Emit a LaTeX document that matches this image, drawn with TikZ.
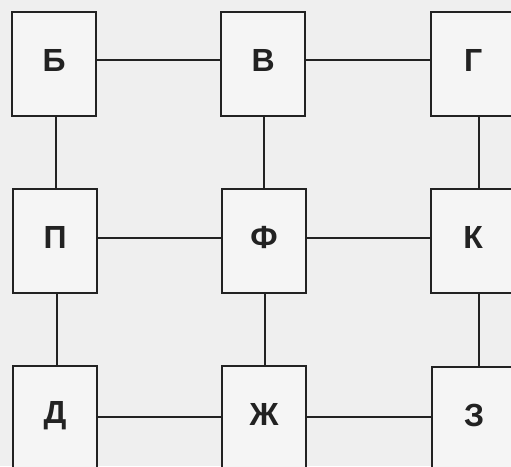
\documentclass[tikz,border=0pt]{standalone}
\usepackage{fontspec}
\setmainfont{Liberation Sans}
\definecolor{ink}{HTML}{222222}
\definecolor{bg}{HTML}{EFEFEF}
\begin{document}
\begin{tikzpicture}[x=1pt,y=-1pt,
  box/.style={draw=ink, fill=bg!60!white, line width=2.2pt, minimum width=84pt, minimum height=104pt, inner sep=0pt, anchor=north west},
  lab/.style={font=\fontsize{32}{32}\selectfont\bfseries, text=ink, inner sep=0pt},
  conn/.style={draw=ink, line width=2.2pt}]
\useasboundingbox (0,0) rectangle (511,466);
\clip (0,0) rectangle (511,466);
\fill[bg] (0,0) rectangle (511,466);
\node[box] (B) at (11,11) {};
\node[box] (V) at (220,11) {};
\node[box] (G) at (430,11) {};
\node[box] (P) at (12,188) {};
\node[box] (F) at (221,188) {};
\node[box] (K) at (430,188) {};
\node[box] (D) at (12,365) {};
\node[box] (Zh) at (221,365) {};
\node[box] (Z) at (431,366) {};
\node[lab, yshift=4pt] (lB) at (B) {Б};
\node[lab, yshift=4pt] (lV) at (V) {В};
\node[lab, yshift=4pt] (lG) at (G) {Г};
\node[lab, yshift=4pt] (lP) at (P) {П};
\node[lab, yshift=4pt] (lF) at (F) {Ф};
\node[lab, yshift=4pt] (lK) at (K) {К};
\node[lab, yshift=2pt] (lD) at (D) {Д};
\node[lab, yshift=4pt] (lZh) at (Zh) {Ж};
\node[lab, yshift=4pt] (lZ) at (Z) {З};
% horizontal connectors
\draw[conn] ([yshift=4pt]B.east) -- ([yshift=4pt]B.east -| V.west);
\draw[conn] ([yshift=4pt]V.east) -- ([yshift=4pt]V.east -| G.west);
\draw[conn] ([yshift=3pt]P.east) -- ([yshift=3pt]P.east -| F.west);
\draw[conn] ([yshift=3pt]F.east) -- ([yshift=3pt]F.east -| K.west);
\draw[conn] ([yshift=1pt]D.east) -- ([yshift=1pt]D.east -| Zh.west);
\draw[conn] ([yshift=1pt]Zh.east) -- ([yshift=1pt]Zh.east -| Z.west);
% vertical connectors
\draw[conn] ([xshift=2pt]B.south) -- ([xshift=2pt]B.south |- P.north);
\draw[conn] ([xshift=1pt]V.south) -- ([xshift=1pt]V.south |- F.north);
\draw[conn] ([xshift=6pt]G.south) -- ([xshift=6pt]G.south |- K.north);
\draw[conn] ([xshift=2pt]P.south) -- ([xshift=2pt]P.south |- D.north);
\draw[conn] ([xshift=1pt]F.south) -- ([xshift=1pt]F.south |- Zh.north);
\draw[conn] ([xshift=6pt]K.south) -- ([xshift=6pt]K.south |- Z.north);
\end{tikzpicture}
\end{document}
